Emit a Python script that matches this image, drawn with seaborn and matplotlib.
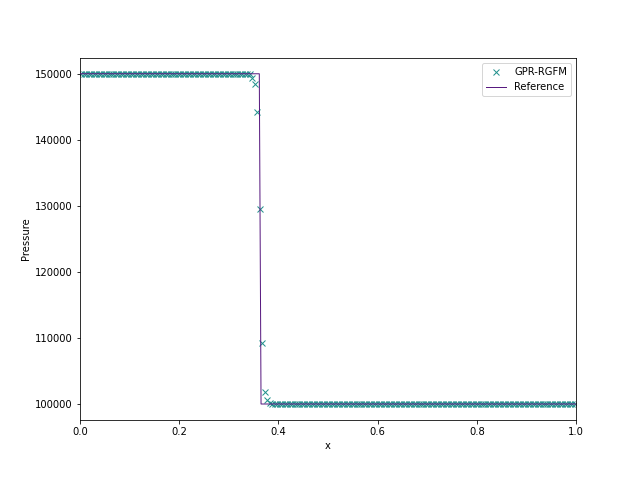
import numpy as np
import pandas as pd
import matplotlib
matplotlib.use("Agg")
import matplotlib.pyplot as plt
import seaborn as sns

# Uniform grid of 200 cell centres
n_cells = 200
x_cells = (np.arange(n_cells) + 0.5) / n_cells

# GPR-RGFM pressure values
p_left = [150000.0] * 68
p_shock = [149900, 149400, 148450, 144250, 129550, 109200, 101800, 100550, 100150]
p_right = [100000.0] * 123
p_gpr = p_left + p_shock + p_right

# Reference solution
ref_x = [0.0, 0.3615, 0.365, 1.0]
ref_p = [150000, 150000, 100000, 100000]

df_gpr = pd.DataFrame({"x": x_cells, "Pressure": p_gpr})
df_ref = pd.DataFrame({"x": ref_x, "Pressure": ref_p})

marker_color = "#21918c"
line_color = "#581a80"

dpi = 72
fig = plt.figure(figsize=(640 / dpi, 480 / dpi), dpi=dpi)
ax = fig.add_axes([0.125, 0.125, 0.775, 0.754])

sns.scatterplot(data=df_gpr, x="x", y="Pressure", ax=ax,
                marker="x", color=marker_color, s=36, linewidth=1,
                label="GPR-RGFM", zorder=2)
sns.lineplot(data=df_ref, x="x", y="Pressure", ax=ax, estimator=None,
             color=line_color, linewidth=1, label="Reference", zorder=3)
for ln in ax.lines:
    ln.set_color(line_color)

ax.set_xlim(0, 1)
ax.set_ylim(97578, 152376)
ax.set_xlabel("x")
ax.set_ylabel("Pressure")
ax.legend(loc="upper right")

fig.savefig("out.png", dpi=dpi)
